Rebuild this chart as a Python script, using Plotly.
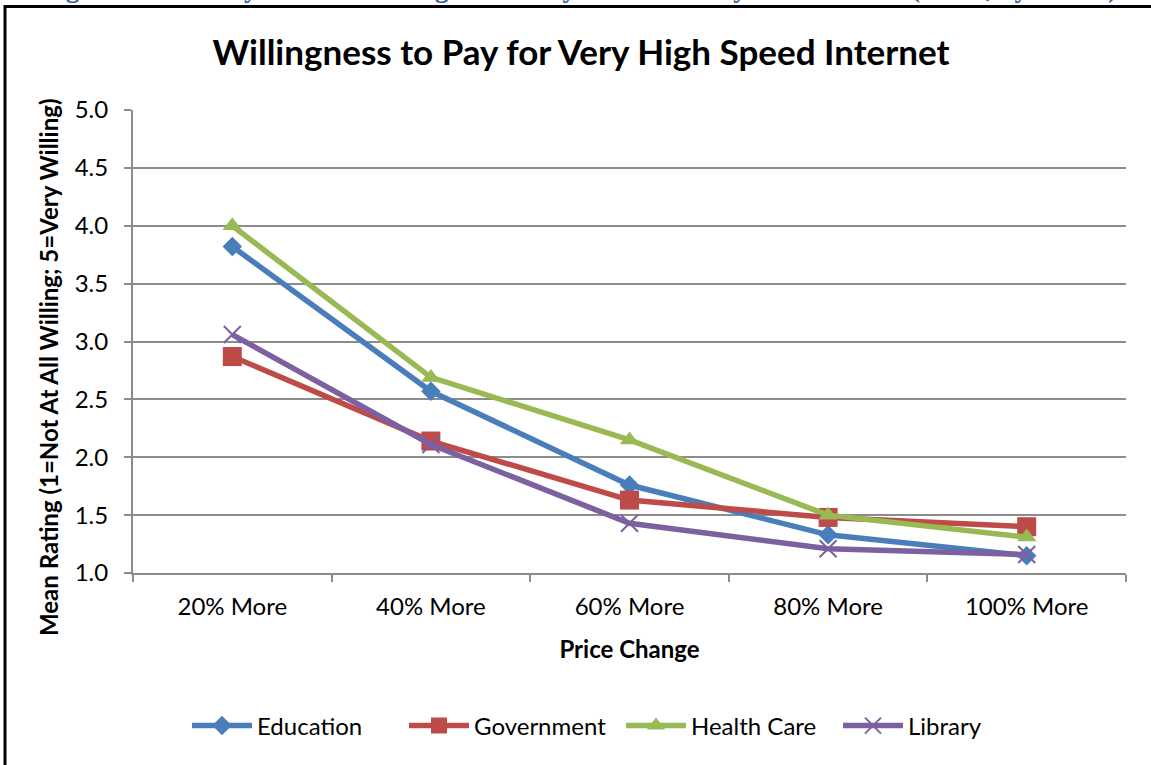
import plotly.graph_objects as go

# price change categories and mean ratings by sector
categories = ["20% More", "40% More", "60% More", "80% More", "100% More"]
education = [3.82, 2.57, 1.76, 1.33, 1.15]
government = [2.87, 2.14, 1.63, 1.48, 1.40]
health_care = [4.00, 2.69, 2.15, 1.50, 1.31]
library = [3.06, 2.11, 1.43, 1.21, 1.16]

y_ticks = [1.0, 1.5, 2.0, 2.5, 3.0, 3.5, 4.0, 4.5, 5.0]

FONT = "Lato"
GRID = "#8c8c8c"

series = [
    ("Education", education, "#4a7ebb", dict(symbol="diamond", size=15)),
    ("Government", government, "#be4b48", dict(symbol="square", size=19)),
    ("Health Care", health_care, "#98b954", dict(symbol="triangle-up", size=17)),
    ("Library", library, "#7d60a0", dict(symbol="x-thin", size=17,
                                           line=dict(width=2, color="#7d60a0"))),
]

fig = go.Figure()
for name, vals, col, mk in series:
    fig.add_trace(go.Scatter(
        x=categories, y=vals, name=name, mode="lines+markers",
        line=dict(color=col, width=5.5),
        marker=dict(color=col, **mk),
    ))

# plot area in pixels: x 133..1126, y 110..573
W, H = 1151, 765
L, R, T, B = 133, 25, 110, 192
pw, ph = W - L - R, H - T - B


def px_x(p):
    return (p - L) / pw


def px_y(p):
    return 1 - (p - T) / ph


fig.update_layout(
    width=W, height=H,
    margin=dict(l=L, r=R, t=T, b=B, autoexpand=False),
    paper_bgcolor="white", plot_bgcolor="white",
    font=dict(family=FONT, size=24, color="black"),
    title=dict(text="<b>Willingness to Pay for Very High Speed Internet</b>",
               font=dict(size=35, family=FONT, color="black"),
               x=581 / W, xanchor="center", y=1 - 53 / H, yanchor="middle"),
    showlegend=True,
    legend=dict(orientation="h", x=px_x(187), xanchor="left",
                y=px_y(726), yanchor="middle",
                font=dict(size=24, family=FONT), itemwidth=60,
                entrywidth=142, entrywidthmode="pixels",
                bgcolor="rgba(0,0,0,0)"),
)

fig.update_xaxes(
    type="category", range=[-0.5, 4.5], showgrid=False,
    showline=True, linecolor=GRID, linewidth=2,
    ticks="outside", tickson="boundaries", ticklen=7, tickwidth=2, tickcolor=GRID,
    tickfont=dict(size=24, family=FONT), ticklabelstandoff=11,
    title=dict(text="<b>Price Change</b>", font=dict(size=24, family=FONT), standoff=22),
)
fig.update_yaxes(
    range=[1, 5], tickvals=y_ticks, tickformat=".1f",
    showgrid=True, gridcolor=GRID, gridwidth=2, zeroline=False,
    showline=True, linecolor=GRID, linewidth=2,
    ticks="outside", ticklen=7, tickwidth=2, tickcolor=GRID,
    tickfont=dict(size=24, family=FONT), ticklabelstandoff=11,
)

# rotated y-axis title
fig.add_annotation(
    text="<b>Mean Rating (1=Not At All Willing; 5=Very Willing)</b>",
    textangle=-90, xref="paper", yref="paper",
    x=px_x(48), y=px_y(368), xanchor="center", yanchor="middle",
    showarrow=False, font=dict(size=24, family=FONT, color="black"),
)

# caption of the figure, mostly cut off at the top of the page
fig.add_annotation(
    text="<b>Figure 3-1: Survey Results: Willingness to Pay More for Very Fast Internet (Mean, by Sector)</b>",
    xref="paper", yref="paper", x=px_x(40), y=px_y(5),
    xanchor="left", yanchor="bottom", showarrow=False,
    font=dict(size=27, family="Liberation Serif", color="#2f5d9c"),
)

# frame around the chart
fig.add_shape(type="rect", xref="paper", yref="paper",
              x0=px_x(5), x1=px_x(1175), y0=px_y(800), y1=px_y(6.5),
              line=dict(color="black", width=3), fillcolor="rgba(0,0,0,0)",
              layer="below")

fig.write_html("out.html", config={"displayModeBar": False},
               post_script="document.body.style.margin='0px';")
